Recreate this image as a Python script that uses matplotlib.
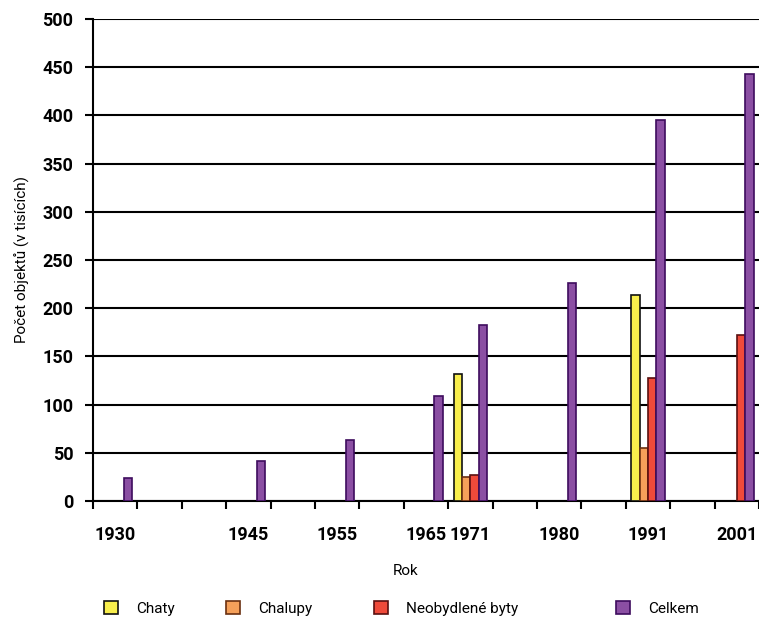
import numpy as np
import matplotlib.pyplot as plt
from matplotlib.patches import Patch

plt.rcParams['font.family'] = ['Roboto', 'DejaVu Sans']

# category slots on the x axis (only some are labelled)
years = ['1930', '', '', '1945', '', '1955', '', '1965', '1971', '', '1980', '', '1991', '', '2001']
nan = np.nan
chaty = [nan, nan, nan, nan, nan, nan, nan, nan, 132, nan, nan, nan, 214, nan, nan]
chalupy = [nan, nan, nan, nan, nan, nan, nan, nan, 25, nan, nan, nan, 55, nan, nan]
neobydlene = [nan, nan, nan, nan, nan, nan, nan, nan, 27, nan, nan, nan, 128, nan, 172]
celkem = [24, nan, nan, 41, nan, 63, nan, 109, 183, nan, 226, nan, 395, nan, 443]

series = ['Chaty', 'Chalupy', 'Neobydlené byty', 'Celkem']
colors = ['#f8ee4c', '#f5a05a', '#ef4a3a', '#8b4fa3']
edges = ['#111111', '#6a3010', '#5a1010', '#3e0c5e']

fig = plt.figure(figsize=(7.59, 6.22), dpi=100)
ax = fig.add_axes([0.1225, 0.1945, 0.8775, 0.775])

x = np.arange(len(years))
w = 0.19
data = [chaty, chalupy, neobydlene, celkem]
for i, vals in enumerate(data):
    ax.bar(x + (i - 1.5) * w, vals, width=w, color=colors[i], edgecolor=edges[i],
           linewidth=1.2, zorder=3)

ax.set_ylim(0, 500)
ax.set_xlim(-0.5, len(years) - 0.5)
ax.set_yticks(np.arange(0, 501, 50))
ax.yaxis.grid(True, color='black', linewidth=1.5, zorder=0)
ax.set_axisbelow(True)

ax.set_xticks(x)
ax.set_xticklabels(years)
ax.set_xticks(np.arange(-0.5, len(years), 1), minor=True)
ax.tick_params(axis='x', which='major', length=0, pad=18, labelsize=13)
ax.tick_params(axis='x', which='minor', length=6, width=1.5, direction='out')
ax.tick_params(axis='y', length=6, width=1.5, labelsize=13, pad=8)
for lab in ax.get_xticklabels() + ax.get_yticklabels():
    lab.set_fontweight('bold')

for s in ['top', 'right']:
    ax.spines[s].set_visible(False)
ax.spines['left'].set_linewidth(1.5)
ax.spines['bottom'].set_linewidth(1.5)

ax.set_ylabel('Počet objektů (v tisících)', fontsize=11)
ax.yaxis.set_label_coords(-0.095, 0.5)
ax.set_xlabel('Rok', fontsize=11)
ax.xaxis.set_label_coords(0.47, -0.13)

# legend items spread along the bottom
legend_x = [0.127, 0.288, 0.483, 0.802]
for i in range(4):
    h = Patch(facecolor=colors[i], edgecolor=edges[i], linewidth=1.2)
    fig.legend([h], [series[i]], loc='center left', bbox_to_anchor=(legend_x[i], 0.022),
               frameon=False, fontsize=11, handlelength=0.9, handleheight=0.9,
               handletextpad=1.2, borderpad=0)

fig.savefig('out.png', dpi=100)
